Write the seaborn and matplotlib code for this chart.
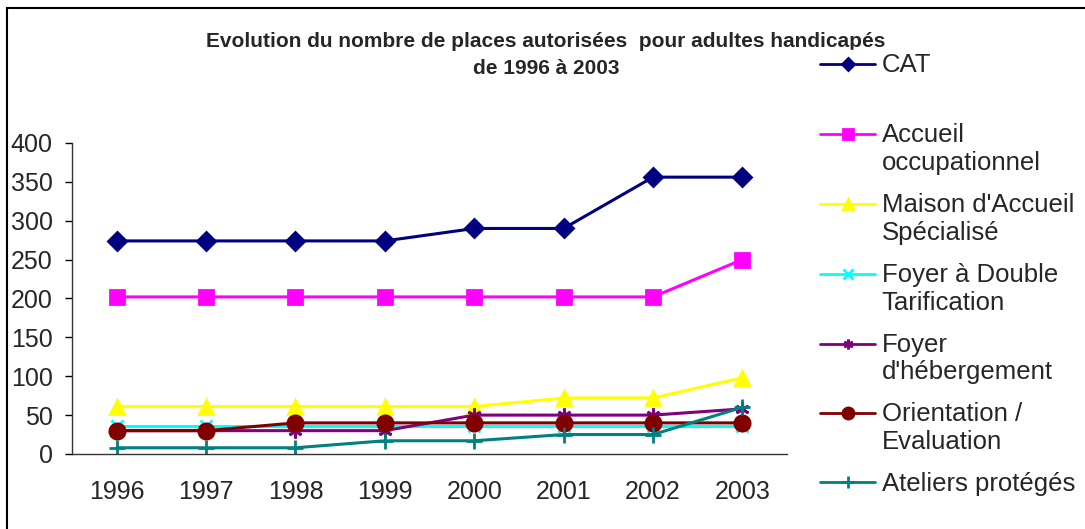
import numpy as np
import pandas as pd
import matplotlib
matplotlib.use("Agg")
import matplotlib.pyplot as plt
from matplotlib.legend_handler import HandlerLine2D
from matplotlib.patches import Rectangle
import seaborn as sns

# data
years = ['1996', '1997', '1998', '1999', '2000', '2001', '2002', '2003']
cat = [274, 274, 274, 274, 290, 290, 356, 356]
accueil_occ = [202, 202, 202, 202, 202, 202, 202, 250]
mas = [61, 61, 61, 61, 61, 72, 72, 98]
foyer_double = [36, 36, 36, 36, 36, 36, 36, 36]
foyer_heberg = [30, 30, 30, 30, 50, 50, 50, 58]
orientation = [30, 30, 40, 40, 40, 40, 40, 40]
ateliers = [8, 8, 8, 17, 17, 25, 25, 60]

labels = ['CAT\n ', 'Accueil\noccupationnel', "Maison d'Accueil\nSpécialisé",
          'Foyer à Double\nTarification', "Foyer\nd'hébergement",
          'Orientation /\nEvaluation', 'Ateliers protégés']
series = [cat, accueil_occ, mas, foyer_double, foyer_heberg, orientation, ateliers]
colors = ['#000080', '#FF00FF', '#FFFF00', '#00FFFF', '#800080', '#800000', '#008080']
markers = ['D', 's', '^', 'x', (6, 2, 0), 'o', '+']
msizes = [9, 10, 10, 9, 10, 11, 11]
leg_msizes = [6, 7, 7, 7, 7, 8, 9]

sns.set_theme(style='white')
plt.rcParams['font.family'] = ['Liberation Sans', 'DejaVu Sans']

fig = plt.figure(figsize=(10.85, 5.29), dpi=100)
ax = fig.add_axes([0.0664, 0.1418, 0.659, 0.588])

x = np.arange(len(years))
for vals, lab, col, mk, ms in zip(series, labels, colors, markers, msizes):
    df = pd.DataFrame({'x': x, 'y': vals})
    sns.lineplot(data=df, x='x', y='y', ax=ax, color=col, marker=mk, markersize=ms,
                 markeredgecolor=col, markeredgewidth=2, linewidth=2.2, label=lab)

ax.set_xlim(-0.5, 7.5)
ax.set_ylim(0, 400)
ax.set_yticks(range(0, 401, 50))
ax.set_xticks(x)
ax.set_xticklabels(years)
ax.set_xlabel('')
ax.set_ylabel('')
ax.tick_params(axis='y', length=5, width=1, direction='out', pad=9, labelsize=18, left=True, color='black')
ax.tick_params(axis='x', length=0, pad=19, labelsize=18)
for s in ['top', 'right']:
    ax.spines[s].set_visible(False)
for s in ['left', 'bottom']:
    ax.spines[s].set_color('#333333')
    ax.spines[s].set_linewidth(1)


class TopLineHandler(HandlerLine2D):
    # put the marker on the first line of a two-line label, like Excel
    def __init__(self, shift=0.62, **kw):
        super().__init__(**kw)
        self.shift = shift

    def create_artists(self, legend, orig_handle, xdescent, ydescent, width, height, fontsize, trans):
        arts = super().create_artists(legend, orig_handle, xdescent, ydescent, width, height, fontsize, trans)
        for a in arts:
            a.set_ydata(np.asarray(a.get_ydata()) + self.shift * fontsize)
        return arts


handles, labs = ax.get_legend_handles_labels()
ax.get_legend().remove()
hmap = {h: TopLineHandler(0.6 if '\n' in l else 0.0) for h, l in zip(handles, labs)}
leg = fig.legend(handles, labs, loc='upper left', bbox_to_anchor=(0.741, 0.929),
                 fontsize=18.5, frameon=True, facecolor='white', edgecolor='white',
                 framealpha=1, handlelength=2.15, handletextpad=0.25, labelspacing=0.7,
                 borderpad=0.12, fancybox=False, handler_map=hmap)
for t in leg.get_texts():
    t.set_linespacing(1.2)
for h, ms in zip(leg.legend_handles, leg_msizes):
    h.set_markersize(ms)
    h.set_linewidth(2)

fig.text(0.503, 0.896, "Evolution du nombre de places autorisées  pour adultes handicapés\nde 1996 à 2003",
         ha='center', va='center', fontsize=15, fontweight='bold', linespacing=1.55, zorder=1)

# outer frame of the chart area
fig.patches.append(Rectangle((7 / 1085, -0.1), 1.2, 1.1 - 8 / 529, transform=fig.transFigure,
                             fill=False, edgecolor='black', linewidth=1.5))

fig.savefig('out.png', dpi=100)
